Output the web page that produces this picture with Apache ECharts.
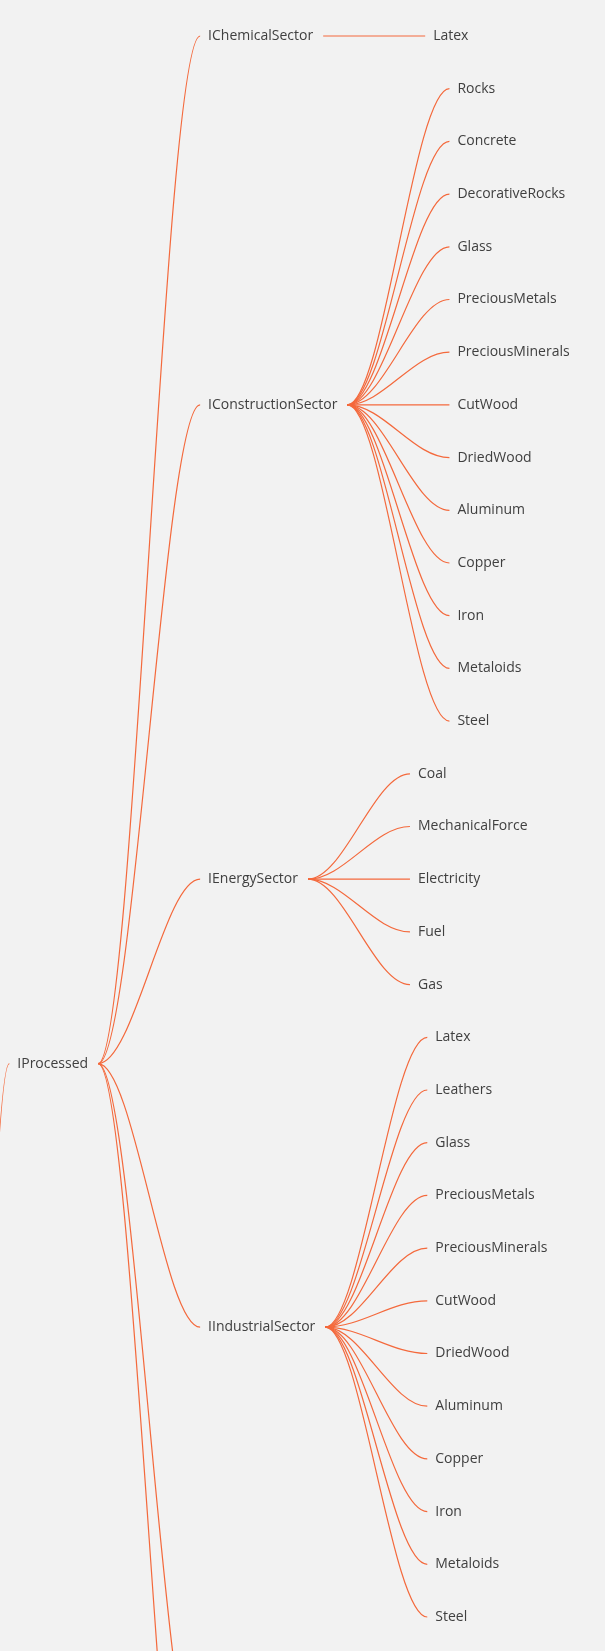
<!DOCTYPE html>
<html>
<head>
<meta charset="utf-8">
<title>IProcessed</title>
<style>
  html, body { margin: 0; padding: 0; background: #f2f2f2; }
  #main { width: 605px; height: 1651px; }
</style>
</head>
<body>
<div id="main"></div>
<script src="https://cdn.jsdelivr.net/npm/echarts@6/dist/echarts.min.js"></script>
<script>
  // tree data
  var rootName = 'IResource';
  var processedName = 'IProcessed';
  var rawName = 'IRaw';
  var rawRows = 108; // collapsed branch below, off screen

  var sectorNames = ['IChemicalSector', 'IConstructionSector', 'IEnergySector', 'IIndustrialSector', 'IFoodSector', 'ITextileSector'];
  var chemicalItems = ['Latex'];
  var constructionItems = ['Rocks', 'Concrete', 'DecorativeRocks', 'Glass', 'PreciousMetals', 'PreciousMinerals', 'CutWood', 'DriedWood', 'Aluminum', 'Copper', 'Iron', 'Metaloids', 'Steel'];
  var energyItems = ['Coal', 'MechanicalForce', 'Electricity', 'Fuel', 'Gas'];
  var industrialItems = ['Latex', 'Leathers', 'Glass', 'PreciousMetals', 'PreciousMinerals', 'CutWood', 'DriedWood', 'Aluminum', 'Copper', 'Iron', 'Metaloids', 'Steel'];
  var foodItems = ['Meat', 'Fish', 'Grain', 'Fruit', 'Vegetables'];
  var textileItems = ['Cotton', 'Wool', 'Silk', 'Leathers'];
  var sectorItems = [chemicalItems, constructionItems, energyItems, industrialItems, foodItems, textileItems];

  // look
  var FONT = '14px "Open Sans"';
  var lineColor = '#f4693c';
  var textColor = '#404040';
  var rowH = 52.7;
  var gap = 102;
  var padL = 8, padR = 10;
  var tension = 0.35;

  var ctx = document.createElement('canvas').getContext('2d');
  ctx.font = FONT;
  function textWidth(s) { return ctx.measureText(s).width; }

  var tree = {
    name: rootName,
    children: [
      {
        name: processedName,
        children: sectorNames.map(function (s, i) {
          return { name: s, children: sectorItems[i].map(function (n) { return { name: n }; }) };
        })
      },
      { name: rawName, rows: rawRows }
    ]
  };

  // mind-map layout: boxes sized by text, leaves on fixed rows
  var nodes = [];
  var row = 0;
  function place(node, parent) {
    node.parent = parent;
    node.left = parent ? parent.right + gap : 0;
    node.right = node.left + padL + textWidth(node.name) + padR;
    nodes.push(node);
    if (node.children) {
      node.children.forEach(function (c) { place(c, node); });
      node.first = node.children[0].first;
      node.last = node.children[node.children.length - 1].last;
    } else {
      var r = node.rows || 1;
      node.first = row;
      node.last = row + r - 1;
      row += r;
    }
    node.y = (node.first + node.last) / 2 * rowH;
  }
  place(tree, null);

  var processed = tree.children[0];
  var viewLeft = processed.left - 9.3;
  var viewTop = -36;

  var data = nodes.map(function (n) {
    return [n.left, n.y, n.parent ? n.parent.right : n.left, n.parent ? n.parent.y : n.y];
  });

  var myChart = echarts.init(document.getElementById('main'));
  var option = {
    backgroundColor: '#f2f2f2',
    animation: false,
    grid: { left: 0, right: 0, top: 0, bottom: 0 },
    xAxis: { type: 'value', min: viewLeft, max: viewLeft + 605, show: false },
    yAxis: { type: 'value', min: viewTop, max: viewTop + 1651, inverse: true, show: false },
    series: [{
      type: 'custom',
      coordinateSystem: 'cartesian2d',
      encode: { x: 0, y: 1 },
      data: data,
      renderItem: function (params, api) {
        var node = nodes[params.dataIndex];
        var p = api.coord([api.value(0), api.value(1)]);
        var items = [{
          type: 'text',
          x: p[0] + padL,
          y: p[1],
          style: { text: node.name, font: FONT, fill: textColor, align: 'left', verticalAlign: 'middle' }
        }];
        if (node.parent) {
          var q = api.coord([api.value(2), api.value(3)]);
          var dx = p[0] - q[0];
          items.unshift({
            type: 'bezierCurve',
            shape: {
              x1: q[0], y1: q[1],
              cpx1: q[0] + dx * tension, cpy1: q[1],
              cpx2: p[0] - dx * tension, cpy2: p[1],
              x2: p[0], y2: p[1]
            },
            style: { stroke: lineColor, lineWidth: 1.2, fill: null }
          });
        }
        return { type: 'group', children: items };
      }
    }]
  };
  myChart.setOption(option);
</script>
</body>
</html>
